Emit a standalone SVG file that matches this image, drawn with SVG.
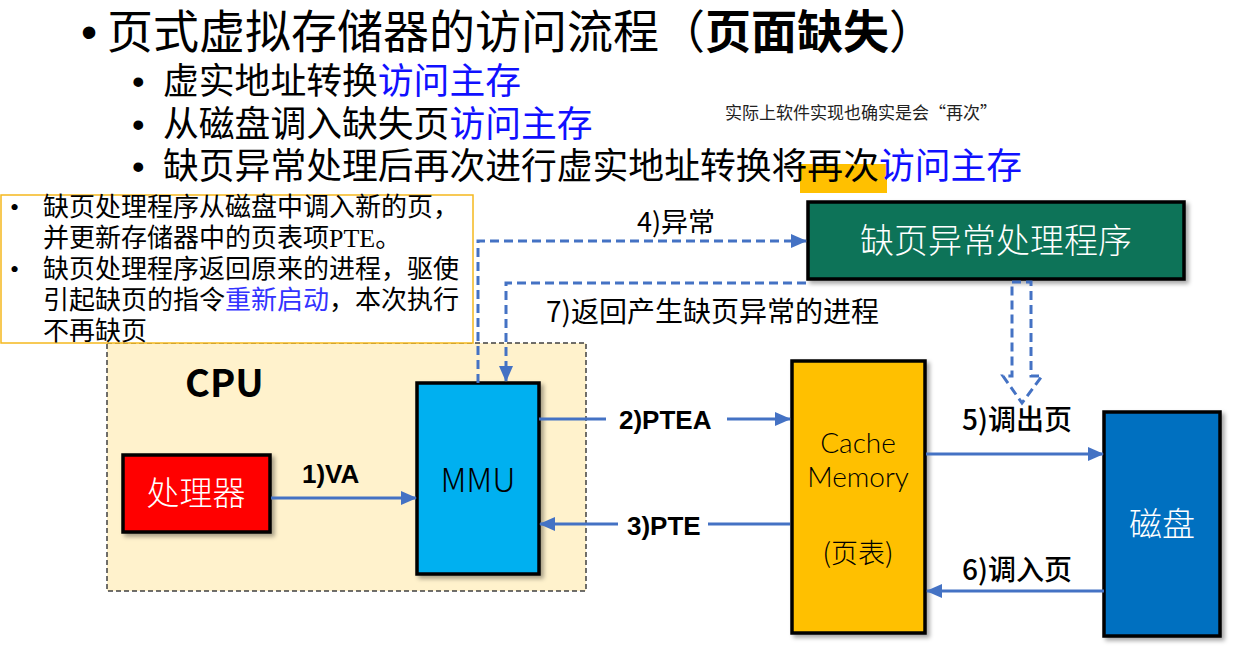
<svg xmlns="http://www.w3.org/2000/svg" width="1243" height="649" viewBox="0 0 1243 649">
<style>
  text { font-family: "Noto Sans CJK SC", "Liberation Sans", sans-serif; fill: #000; text-spacing-trim: space-all; }
  .title { font-size: 46px; font-family: "Liberation Sans", "Noto Sans CJK SC", sans-serif; }
  .sub { font-size: 35.8px; font-family: "Liberation Sans", "Noto Sans CJK SC", sans-serif; }
  .blue { fill: #1010FF; }
  .note { font-size: 17px; fill: #222; }
  .box { stroke: #000; stroke-width: 3.5; filter: url(#sh); }
  .lbl { font-family: "Liberation Sans", "Noto Sans CJK SC", sans-serif; font-weight: bold; font-size: 26px; }
  .lblc { font-family: "Noto Sans CJK SC", sans-serif; font-weight: 500; font-size: 28px; }
  .lt { font-family: "Noto Sans CJK SC", "Liberation Sans", sans-serif; font-weight: 300; }
  .lat { font-family: "Lato", "Liberation Sans", sans-serif; font-weight: 300; }
  .conn { fill: none; stroke: #4472C4; stroke-width: 3; }
  .dash { stroke-dasharray: 9 5; }
  .tb { font-size: 26px; font-family: "Liberation Serif", "Noto Sans CJK SC", serif; }
</style>
<defs>
  <filter id="sh" x="-10%" y="-10%" width="130%" height="130%">
    <feDropShadow dx="3" dy="3" stdDeviation="2" flood-color="#000" flood-opacity="0.35"/>
  </filter>
  <marker id="ah" markerUnits="userSpaceOnUse" markerWidth="16" markerHeight="14" refX="15" refY="7" orient="auto">
    <path d="M0,0 L16,7 L0,14 z" fill="#4472C4"/>
  </marker>
</defs>

<g id="heading">
  <text class="title" x="81" y="48">•</text>
  <text class="title" x="107" y="48">页式虚拟存储器的访问流程（<tspan font-weight="bold">页面缺失</tspan>）</text>
  <text class="sub" x="132" y="94">•</text>
  <text class="sub" x="163" y="94">虚实地址转换<tspan class="blue">访问主存</tspan></text>
  <text class="sub" x="132" y="137">•</text>
  <text class="sub" x="163" y="137">从磁盘调入缺失页<tspan class="blue">访问主存</tspan></text>
  <rect x="800" y="164" width="87" height="29" fill="#FFC000"/>
  <text class="sub" x="132" y="179">•</text>
  <text class="sub" x="163" y="179">缺页异常处理后再次进行虚实地址转换将再次<tspan class="blue">访问主存</tspan></text>
  <text class="note" x="725" y="119">实际上软件实现也确实是会“再次”</text>
</g>

<g id="cpu">
  <rect x="107" y="343" width="479" height="248" fill="#FFF2CC" stroke="#404040" stroke-width="1.5" stroke-dasharray="5 3"/>
  <text x="185" y="397" font-family="Liberation Sans, sans-serif" font-weight="bold" font-size="38">CPU</text>
</g>

<g id="notebox">
  <rect x="1" y="195" width="472" height="148" fill="#FFFFFF" stroke="#F5B81E" stroke-width="1.5"/>
  <text class="tb" x="10" y="216">•</text>
  <text class="tb" x="43" y="216">缺页处理程序从磁盘中调入新的页，</text>
  <text class="tb" x="43" y="247">并更新存储器中的页表项PTE。</text>
  <text class="tb" x="10" y="278">•</text>
  <text class="tb" x="43" y="278">缺页处理程序返回原来的进程，驱使</text>
  <text class="tb" x="43" y="309">引起缺页的指令<tspan fill="#3333FF">重新启动</tspan>，本次执行</text>
  <text class="tb" x="43" y="340">不再缺页</text>
</g>

<g id="processor">
  <rect class="box" x="123" y="455" width="147" height="77" fill="#FF0000"/>
  <text class="lt" x="196" y="505" font-size="33" text-anchor="middle" style="fill:#fff">处理器</text>
</g>

<g id="mmu">
  <rect class="box" x="417" y="383" width="122" height="191" fill="#00B0F0"/>
  <text class="lt" x="478" y="492" font-size="33" text-anchor="middle">MMU</text>
</g>

<g id="cache">
  <rect class="box" x="792" y="361" width="133" height="272" fill="#FFC000"/>
  <text class="lat" x="858" y="453" font-size="28" text-anchor="middle">Cache</text>
  <text class="lat" x="858" y="487" font-size="28" text-anchor="middle">Memory</text>
  <text class="lt" x="858" y="563" font-size="27" text-anchor="middle">(页表)</text>
</g>

<g id="disk">
  <rect class="box" x="1104" y="412" width="116" height="224" fill="#0070C0"/>
  <text class="lt" x="1162" y="536" font-size="33" text-anchor="middle" style="fill:#fff">磁盘</text>
</g>

<g id="handler">
  <rect class="box" x="808" y="202" width="376" height="77" fill="#107358"/>
  <text class="lt" x="996" y="253" font-size="34" text-anchor="middle" style="fill:#fff">缺页异常处理程序</text>
</g>

<g id="connectors">
  <line class="conn" x1="271" y1="498" x2="416" y2="498" marker-end="url(#ah)"/>
  <text class="lbl" x="302" y="483" font-size="27">1)VA</text>

  <line class="conn" x1="539" y1="419" x2="606" y2="419"/>
  <line class="conn" x1="727" y1="419" x2="790" y2="419" marker-end="url(#ah)"/>
  <text class="lbl" x="619" y="429">2)PTEA</text>

  <line class="conn" x1="790" y1="524" x2="708" y2="524"/>
  <line class="conn" x1="618" y1="524" x2="540" y2="524" marker-end="url(#ah)"/>
  <text class="lbl" x="627" y="535">3)PTE</text>

  <polyline class="conn dash" points="478,383 478,241 806,241" marker-end="url(#ah)"/>
  <text class="lt" x="637" y="232" font-size="27" style="font-weight:400">4)异常</text>

  <polyline class="conn dash" points="806,283 506,283 506,381" marker-end="url(#ah)"/>
  <text class="lt" x="546" y="322" font-size="28" style="font-weight:400">7)返回产生缺页异常的进程</text>

  <polygon class="conn dash" points="1012,282 1031,282 1031,376 1042,376 1022,403 1003,376 1012,376"/>

  <line class="conn" x1="926" y1="454" x2="1103" y2="454" marker-end="url(#ah)"/>
  <text class="lblc" x="962" y="430">5)调出页</text>

  <line class="conn" x1="1104" y1="591" x2="927" y2="591" marker-end="url(#ah)"/>
  <text class="lblc" x="962" y="580">6)调入页</text>
</g>
</svg>
